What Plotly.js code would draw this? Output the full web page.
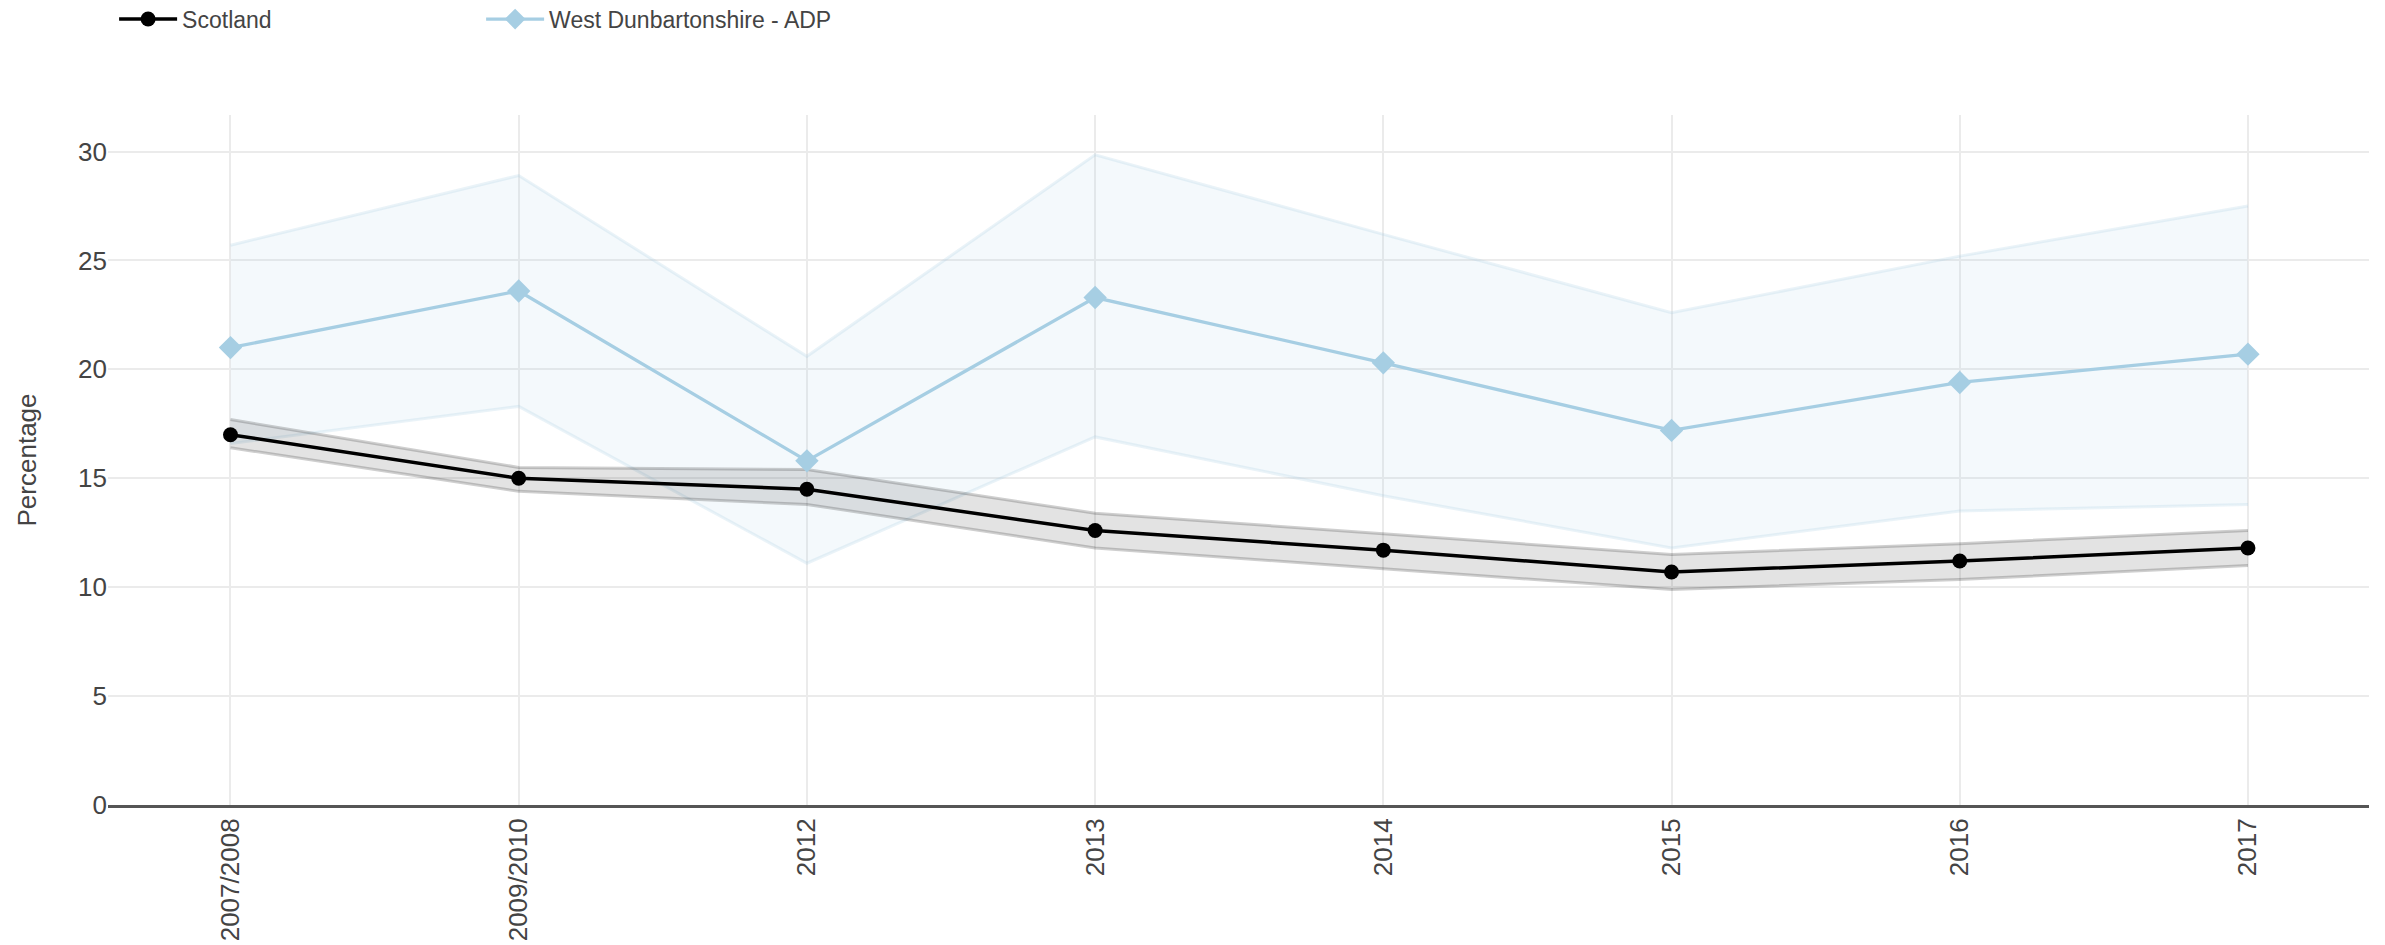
<!DOCTYPE html>
<html>
<head>
<meta charset="utf-8">
<script src="https://cdn.plot.ly/plotly-3.0.1.min.js"></script>
<style>
  html, body { margin: 0; padding: 0; background: #fff; }
  #chart { width: 2385px; height: 945px; }
</style>
</head>
<body>
<div id="chart"></div>
<script>
var categories = ["2007/2008", "2009/2010", "2012", "2013", "2014", "2015", "2016", "2017"];

var scotlandValues = [17.0, 15.0, 14.5, 12.6, 11.7, 10.7, 11.2, 11.8];
var scotlandUpper  = [17.7, 15.5, 15.4, 13.4, 12.45, 11.5, 12.0, 12.6];
var scotlandLower  = [16.4, 14.4, 13.8, 11.8, 10.85, 9.9, 10.35, 11.0];

var wdValues = [21.0, 23.6, 15.8, 23.3, 20.3, 17.2, 19.4, 20.7];
var wdUpper  = [25.7, 28.9, 20.6, 29.85, 26.2, 22.6, 25.2, 27.5];
var wdLower  = [16.6, 18.3, 11.1, 16.9, 14.2, 11.8, 13.5, 13.8];

var yTickValues = [0, 5, 10, 15, 20, 25, 30];

var FONT = "Arial, 'Liberation Sans', sans-serif";

var traces = [
  {
    x: categories, y: wdLower, type: "scatter", mode: "lines",
    line: { color: "rgba(166,206,227,0.24)", width: 3 },
    hoverinfo: "skip", showlegend: false
  },
  {
    x: categories, y: wdUpper, type: "scatter", mode: "lines",
    line: { color: "rgba(166,206,227,0.24)", width: 3 },
    fill: "tonexty", fillcolor: "rgba(166,206,227,0.12)",
    hoverinfo: "skip", showlegend: false
  },
  {
    x: categories, y: scotlandLower, type: "scatter", mode: "lines",
    line: { color: "rgba(0,0,0,0.19)", width: 3 },
    hoverinfo: "skip", showlegend: false
  },
  {
    x: categories, y: scotlandUpper, type: "scatter", mode: "lines",
    line: { color: "rgba(0,0,0,0.19)", width: 3 },
    fill: "tonexty", fillcolor: "rgba(0,0,0,0.11)",
    hoverinfo: "skip", showlegend: false
  },
  {
    name: "West Dunbartonshire - ADP",
    x: categories, y: wdValues, type: "scatter", mode: "lines+markers",
    line: { color: "#a6cee3", width: 3.3 },
    marker: { symbol: "diamond", size: 18, color: "#a6cee3" },
    legendrank: 2
  },
  {
    name: "Scotland",
    x: categories, y: scotlandValues, type: "scatter", mode: "lines+markers",
    line: { color: "#000000", width: 3.5 },
    marker: { symbol: "circle", size: 15, color: "#000000" },
    legendrank: 1
  }
];

var layout = {
  width: 2385,
  height: 945,
  paper_bgcolor: "#ffffff",
  plot_bgcolor: "#ffffff",
  font: { family: FONT, size: 26, color: "#444" },
  margin: { l: 108, r: 16, t: 115, b: 140, pad: 0, autoexpand: false },
  showlegend: true,
  legend: {
    orientation: "h",
    x: 0.0027, xanchor: "left",
    y: 1.139, yanchor: "middle",
    font: { family: FONT, size: 23, color: "#444" },
    itemwidth: 58,
    entrywidth: 294,
    entrywidthmode: "pixels",
    traceorder: "normal",
    bgcolor: "rgba(0,0,0,0)"
  },
  xaxis: {
    type: "category",
    range: [-0.425, 7.42],
    tickangle: -90,
    showgrid: true,
    gridcolor: "#ebebeb",
    gridwidth: 2,
    showline: true,
    linecolor: "#555",
    linewidth: 3,
    ticks: "",
    tickfont: { family: FONT, size: 26, color: "#444" },
    zeroline: false,
    automargin: false,
    fixedrange: true
  },
  yaxis: {
    range: [0, 31.68],
    tickvals: yTickValues,
    showgrid: true,
    gridcolor: "#ebebeb",
    gridwidth: 2,
    zeroline: false,
    showline: false,
    ticks: "",
    tickfont: { family: FONT, size: 26, color: "#444" },
    title: { text: "Percentage", font: { family: FONT, size: 26, color: "#444" }, standoff: 33 },
    automargin: false,
    fixedrange: true
  }
};

Plotly.newPlot("chart", traces, layout, { displayModeBar: false, staticPlot: true });
</script>
</body>
</html>
